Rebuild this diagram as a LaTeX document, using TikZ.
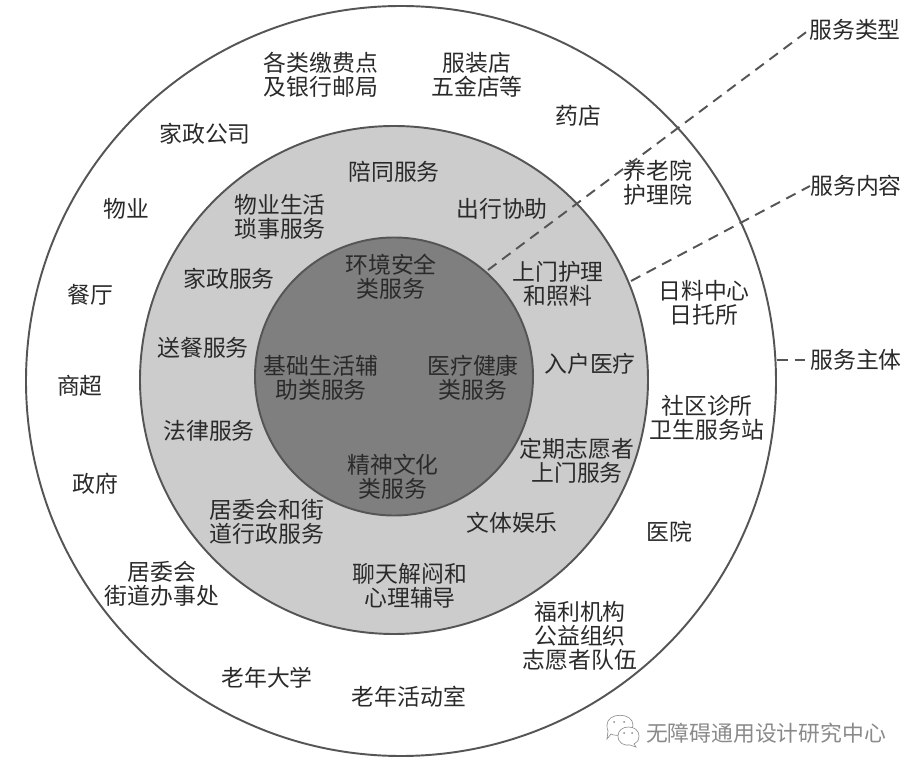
\documentclass[tikz,border=0pt]{standalone}
\usepackage{fontspec}
\setmainfont{Noto Sans CJK SC}
\usetikzlibrary{positioning,calc}
\definecolor{ringline}{HTML}{555555}
\definecolor{midgray}{HTML}{CCCCCC}
\definecolor{coregray}{HTML}{7F7F7F}
\definecolor{ink}{HTML}{2A2A2A}
\definecolor{markgray}{HTML}{8A8A8A}
\tikzset{
  lab/.style={align=center,text=ink,inner sep=0pt,font=\fontsize{13}{13.8}\selectfont},
  ring/.style={draw=ringline,line width=1.1pt},
  leader/.style={draw=ringline,dash pattern=on 6pt off 4pt,line width=1.1pt},
  bubble/.style={draw=markgray,fill=white,line width=0.35pt}
}
\begin{document}
\begin{tikzpicture}[x=0.02cm,y=-0.02cm]
        \useasboundingbox (0,0) rectangle (917,773);
        \fill[white] (0,0) rectangle (917,773);
        % rings
        \draw[ring,fill=white] (401,381) circle (375);
        \draw[ring,fill=midgray] (394,380) circle (254);
        \draw[ring,fill=coregray] (394,376.5) circle (139);
        % outer ring
        \node[lab] (jiaofei) at (321,75){各类缴费点\\及银行邮局};
        \node[lab] (fuzhuang) at (477,75){服装店\\五金店等};
        \node[lab] (yaodian) at (578,116){药店};
        \node[lab] (jiazheng) at (205,134){家政公司};
        \node[lab] (yanglao) at (658,183){养老院\\护理院};
        \node[lab] (wuye) at (126,209){物业};
        \node[lab] (canting) at (90,295){餐厅};
        \node[lab] (rituo) at (704,303){日料中心\\日托所};
        \node[lab] (shangchao) at (80,386){商超};
        \node[lab] (zhensuo) at (707,418){社区诊所\\卫生服务站};
        \node[lab] (zhengfu) at (95,484){政府};
        \node[lab] (yiyuan) at (669,532){医院};
        \node[lab] (jiedao) at (162,584){居委会\\街道办事处};
        \node[lab] (fuli) at (580,636){福利机构\\公益组织\\志愿者队伍};
        \node[lab] (daxue) at (267,678){老年大学};
        \node[lab] (huodong) at (409,697){老年活动室};
        % middle ring
        \node[lab] (peitong) at (394,172){陪同服务};
        \node[lab] (suoshi) at (280,217){物业生活\\琐事服务};
        \node[lab] (chuxing) at (502,209){出行协助};
        \node[lab] (jzfuwu) at (229,279){家政服务};
        \node[lab] (huli) at (558,284){上门护理\\和照料};
        \node[lab] (songcan) at (203,348){送餐服务};
        \node[lab] (ruhu) at (590,364){入户医疗};
        \node[lab] (falv) at (209,431){法律服务};
        \node[lab] (zhiyuan) at (577,461){定期志愿者\\上门服务};
        \node[lab] (xingzheng) at (267,522){居委会和街\\道行政服务};
        \node[lab] (wenti) at (512,523){文体娱乐};
        \node[lab] (liaotian) at (410,586){聊天解闷和\\心理辅导};
        % core
        \node[lab] (anquan) at (391,277){环境安全\\类服务};
        \node[lab] (jichu) at (321,378){基础生活辅\\助类服务};
        \node[lab] (yiliao) at (473,378){医疗健康\\类服务};
        \node[lab] (jingshen) at (393,477){精神文化\\类服务};
        % leaders
        \node[lab,anchor=west] (leixing) at (809,30){服务类型};
        \node[lab,anchor=west] (neirong) at (810,186){服务内容};
        \node[lab,anchor=west] (zhuti) at (810,360){服务主体};
        \coordinate (leixingfoot) at (488,270);
        \coordinate (neirongfoot) at (631,281);
        \coordinate (zhutifoot) at (777,360);
        \draw[leader] (leixingfoot)--(leixing.west);
        \draw[leader] (neirongfoot)--(neirong.west);
        \draw[leader] (zhutifoot)--(zhuti.west);
        % watermark
        \draw[bubble] (607,725) .. controls (607,712) and (633,712) .. (633,725) .. controls (633,735) and (615,737) .. (611,734) -- (607,739) -- (608,731) .. controls (607,729) and (607,727) .. (607,725);
        \draw[bubble] (618,736) .. controls (618,724) and (639,724) .. (639,736) .. controls (639,741) and (636,743) .. (634,744) -- (636,747) -- (630,745) .. controls (624,746) and (618,743) .. (618,736);
        \foreach \x/\y in {614/722,624/722,624/733,632/733}{\fill[markgray] (\x,\y) circle (1);}
        \node[inner sep=0pt,text=markgray,font=\fontsize{12.4}{14}\selectfont] (shuiyin) at (766,733){无障碍通用设计研究中心};
\end{tikzpicture}
\end{document}
